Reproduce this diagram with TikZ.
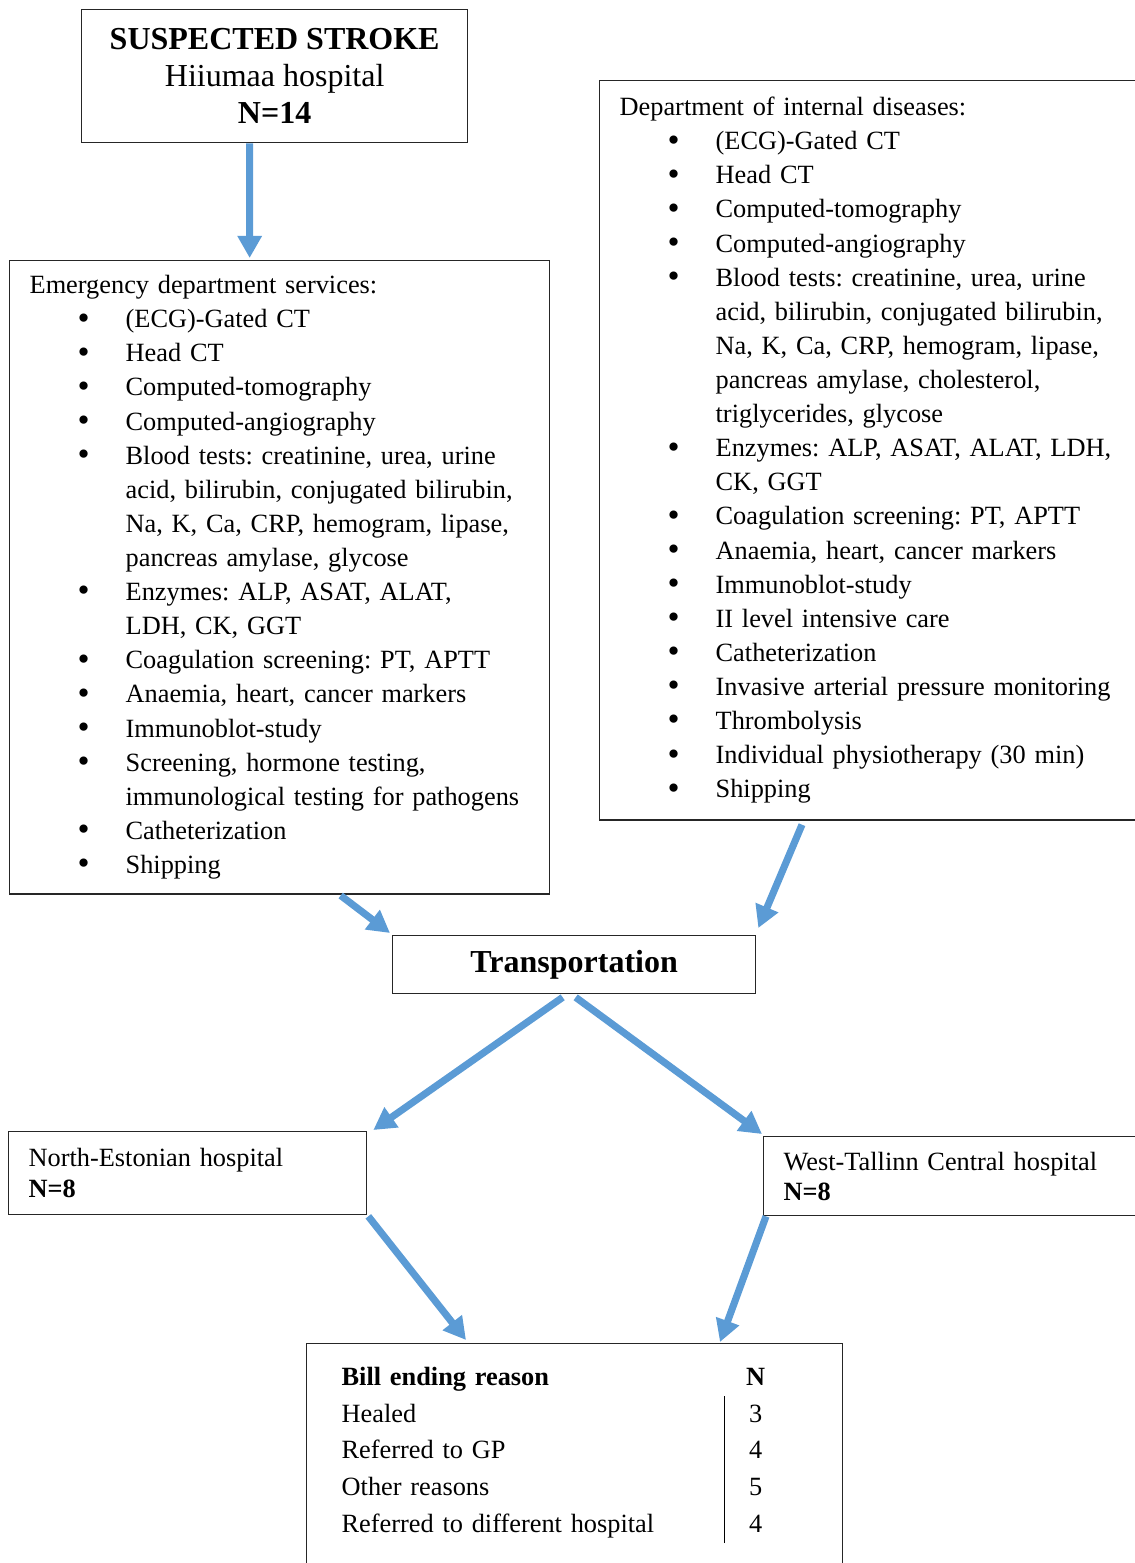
\documentclass[tikz,border=0pt]{standalone}
\usepackage{fontspec}
\setmainfont{Liberation Serif}
\usetikzlibrary{calc,arrows.meta}

\frenchspacing
\definecolor{flowblue}{HTML}{5B9BD5}
\newcommand{\bigbullet}{\raisebox{-0.6pt}{\fontsize{15.5}{15}\selectfont\textbullet}}
\newenvironment{svclist}{%
  \begin{list}{\bigbullet}{%
    \setlength{\leftmargin}{43.2pt}%
    \setlength{\labelwidth}{10pt}%
    \setlength{\labelsep}{16.2pt}%
    \setlength{\itemsep}{0pt}%
    \setlength{\parsep}{0pt}%
    \setlength{\topsep}{0pt}%
    \setlength{\partopsep}{0pt}}}%
  {\end{list}}
\renewcommand{\arraystretch}{1.075}

\begin{document}
\begin{tikzpicture}[x=0.45pt, y=-0.45pt,
  box/.style={draw=black!85, line width=0.6pt, anchor=north west},
  listbox/.style={box, align=left, inner xsep=9pt, inner ysep=6.6pt, font=\fontsize{11.85}{15.35}\selectfont},
  flow/.style={draw=flowblue, line width=3.2pt, -{Triangle[width=10.5pt,length=10pt]}}]
  \useasboundingbox (0,0) rectangle (1135,1563);
  % start: the island hospital
  \node[box, minimum width=173.7pt, minimum height=59.85pt, align=center,
        font=\fontsize{14.4}{16.6}\selectfont] (stroke) at (81,9)
    {\textbf{SUSPECTED STROKE}\\Hiiumaa hospital\\\textbf{N=14}};
  % services of the two departments
  \node[listbox, text width=225pt] (emerg) at (9,260) {Emergency department services:
    \begin{svclist}
      \item (ECG)-Gated CT
      \item Head CT
      \item Computed-tomography
      \item Computed-angiography
      \item Blood tests: creatinine, urea, urine\newline acid, bilirubin, conjugated bilirubin,\newline Na, K, Ca, CRP, hemogram, lipase,\newline pancreas amylase, glycose
      \item Enzymes: ALP, ASAT, ALAT,\newline LDH, CK, GGT
      \item Coagulation screening: PT, APTT
      \item Anaemia, heart, cancer markers
      \item Immunoblot-study
      \item Screening, hormone testing,\newline immunological testing for pathogens
      \item Catheterization
      \item Shipping
    \end{svclist}};
  \node[listbox, text width=240pt, inner ysep=7.4pt] (internal) at (599,80) {Department of internal diseases:
    \begin{svclist}
      \item (ECG)-Gated CT
      \item Head CT
      \item Computed-tomography
      \item Computed-angiography
      \item Blood tests: creatinine, urea, urine\newline acid, bilirubin, conjugated bilirubin,\newline Na, K, Ca, CRP, hemogram, lipase,\newline pancreas amylase, cholesterol,\newline triglycerides, glycose
      \item Enzymes: ALP, ASAT, ALAT, LDH,\newline CK, GGT
      \item Coagulation screening: PT, APTT
      \item Anaemia, heart, cancer markers
      \item Immunoblot-study
      \item II level intensive care
      \item Catheterization
      \item Invasive arterial pressure monitoring
      \item Thrombolysis
      \item Individual physiotherapy (30 min)
      \item Shipping
    \end{svclist}};
  \node[box, minimum width=163.35pt, minimum height=26.1pt,
        font=\fontsize{14.4}{16.6}\selectfont\bfseries] (transp) at (392,935) {Transportation};
  % receiving hospitals
  \node[box, text width=143.1pt, inner xsep=9pt, minimum height=37.35pt, align=left,
        font=\fontsize{11.85}{14}\selectfont] (north) at (8,1131) {North-Estonian hospital\\\textbf{N=8}};
  \node[box, text width=180pt, inner xsep=9pt, minimum height=35.55pt, align=left,
        font=\fontsize{11.85}{13.6}\selectfont] (west) at (763,1136) {West-Tallinn Central hospital\\\textbf{N=8}};
  % outcome table
  \node[box, text width=209.7pt, inner xsep=15.75pt, inner ysep=7.2pt, align=left,
        font=\fontsize{11.85}{15.35}\selectfont] (bill) at (306,1343) {%
    \begin{tabular}{@{}p{172.35pt}@{}|@{\hspace{9.5pt}}c@{}}
      \multicolumn{1}{@{}p{172.35pt}@{}}{\textbf{Bill ending reason}} & \textbf{N}\\
      Healed & 3\\
      Referred to GP & 4\\
      Other reasons & 5\\
      Referred to different hospital & 4
    \end{tabular}\par\rule{0pt}{30pt}};
  % arrows
  \draw[flow] ($(stroke.south)+(-25,0)$) -- ($(emerg.north)+(-30,-2)$);
  \draw[flow] ($(emerg.south)+(61,1)$) -- ($(transp.north west)+(-2,-2)$);
  \draw[flow] ($(internal.south west)+(203,4)$) -- ($(transp.north east)+(2,-7)$);
  \draw[flow] ($(transp.south)+(-11.5,3)$) -- ($(north.north east)+(6,-1)$);
  \draw[flow] ($(transp.south)+(1.5,3)$) -- ($(west.north west)+(-1,-2)$);
  \draw[flow] ($(north.south east)+(1,1)$) -- ($(bill.north west)+(160,-3)$);
  \draw[flow] ($(west.south west)+(3,0)$) -- ($(bill.north west)+(414,-1)$);
\end{tikzpicture}
\end{document}
